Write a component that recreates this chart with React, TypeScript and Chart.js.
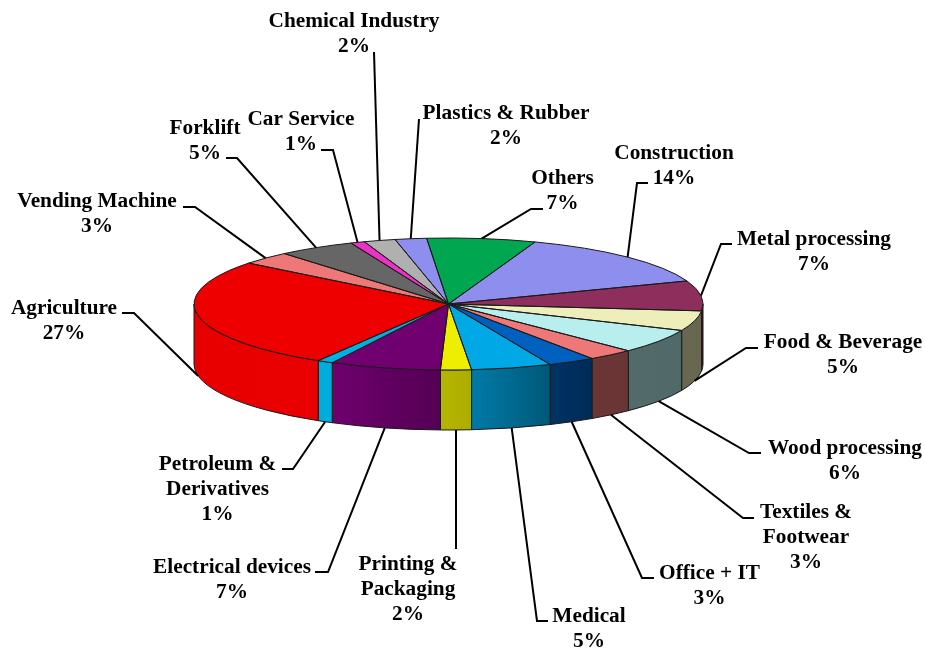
import React, { useEffect, useRef } from "react";
import Chart from "chart.js/auto";

const categories = [
  "Construction", "Metal processing", "Food & Beverage", "Wood processing",
  "Textiles &\nFootwear", "Office + IT", "Medical", "Printing &\nPackaging",
  "Electrical devices", "Petroleum &\nDerivatives", "Agriculture", "Vending Machine",
  "Forklift", "Car Service", "Chemical Industry", "Plastics & Rubber", "Others",
];
const shares = [13.8, 7.35, 4.9, 5.95, 2.95, 3.0, 5.1, 1.95, 7.05, 1.0, 27.1, 3.2, 4.9, 0.9, 2.0, 2.0, 6.9];
const sliceColors = [
  "#8E8EEE", "#8E2E5C", "#EEEEBB", "#B8EEEE", "#EE7777", "#0060C0", "#00A8E6", "#EEEE00",
  "#700070", "#00B0E0", "#EE0000", "#EE7777", "#666666", "#EE2FC8", "#B0B0B0", "#8E8EEE", "#00A650",
];
// label centre x, centre y of first line
const labelSpots = [
  [674, 152], [814, 238], [843, 341], [845, 447], [806, 511], [709.5, 572], [589, 615], [408, 563],
  [232, 566], [217.5, 463], [64, 307], [97, 200], [205, 127], [301, 118], [354, 20], [506, 112], [562.5, 177],
];
// leader line: points from the label side towards the slice
const leaderPaths = [
  [[648, 183], [637, 183]], [[732, 244], [721, 244]], [[758, 348], [746, 348]], [[761, 453], [749, 453]],
  [[754, 518], [743, 518]], [[654, 578], [642, 578]], [[548, 621], [537, 621]], [[456, 549]],
  [[315, 572], [328, 572]], [[282, 469], [293, 469]], [[122, 313], [134, 313]], [[183, 207], [195, 207]],
  [[226, 158], [237, 158]], [[321, 150], [333, 150]], [[374, 52]], [[419, 119]], [[543, 209], [531, 209]],
];
const startDegrees = 19.9;
const tilt = 66 / 254.5;
const wallDepth = 60;
const lineHeight = 25.3;
const shadeStops = [[0, 0.43], [55, 0.45], [67, 0.53], [85, 0.73], [92, 0.76], [117, 0.98], [180, 0.97]];

const TAU = Math.PI * 2;

function shadeAt(deg: number) {
  for (let i = 1; i < shadeStops.length; i++) {
    const [a0, s0] = shadeStops[i - 1];
    const [a1, s1] = shadeStops[i];
    if (deg <= a1) return s0 + ((s1 - s0) * (deg - a0)) / (a1 - a0);
  }
  return shadeStops[shadeStops.length - 1][1];
}

function scaleHex(hex: string, f: number) {
  const n = parseInt(hex.slice(1), 16);
  const r = Math.round(((n >> 16) & 255) * f);
  const g = Math.round(((n >> 8) & 255) * f);
  const b = Math.round((n & 255) * f);
  return `rgb(${r},${g},${b})`;
}

function visibleSpan(start: number, end: number) {
  let s = start % TAU;
  if (s < 0) s += TAU;
  const e = s + (end - start);
  const spans: number[][] = [];
  for (const base of [0, TAU]) {
    const a = Math.max(s, base);
    const b = Math.min(e, base + Math.PI);
    if (b > a) spans.push([a - base, b - base]);
  }
  return spans;
}

const pie3d = {
  id: "pie3d",
  beforeDatasetsDraw(chart: any) {
    const ctx = chart.ctx;
    const arcs = chart.getDatasetMeta(0).data;
    // side walls, right to left
    arcs.forEach((arc: any, i: number) => {
      const rx = arc.outerRadius;
      const ry = rx * tilt;
      for (const [a, b] of visibleSpan(arc.startAngle, arc.endAngle)) {
        const xa = arc.x + rx * Math.cos(a);
        const xb = arc.x + rx * Math.cos(b);
        const grad = ctx.createLinearGradient(xa, 0, xb, 0);
        for (let k = 0; k <= 8; k++) {
          const ang = a + ((b - a) * k) / 8;
          const x = arc.x + rx * Math.cos(ang);
          const pos = xa === xb ? 0 : Math.min(1, Math.max(0, (x - xa) / (xb - xa)));
          grad.addColorStop(pos, scaleHex(sliceColors[i], shadeAt((ang * 180) / Math.PI)));
        }
        ctx.beginPath();
        ctx.ellipse(arc.x, arc.y, rx, ry, 0, a, b);
        ctx.lineTo(arc.x + rx * Math.cos(b), arc.y + ry * Math.sin(b) + wallDepth);
        ctx.ellipse(arc.x, arc.y + wallDepth, rx, ry, 0, b, a, true);
        ctx.closePath();
        ctx.fillStyle = grad;
        ctx.fill();
        ctx.lineWidth = 1;
        ctx.strokeStyle = "#1a1a1a";
        ctx.stroke();
      }
    });
    const first = arcs[0];
    ctx.save();
    ctx.translate(first.x, first.y);
    ctx.scale(1, tilt);
    ctx.translate(-first.x, -first.y);
  },
  afterDatasetsDraw(chart: any) {
    const ctx = chart.ctx;
    ctx.restore();
    const arcs = chart.getDatasetMeta(0).data;
    // slice outlines at a uniform pen width
    arcs.forEach((arc: any) => {
      const rx = arc.outerRadius;
      const ry = rx * tilt;
      ctx.beginPath();
      ctx.moveTo(arc.x, arc.y);
      ctx.ellipse(arc.x, arc.y, rx, ry, 0, arc.startAngle, arc.endAngle);
      ctx.closePath();
      ctx.lineWidth = 1;
      ctx.lineJoin = "round";
      ctx.strokeStyle = "#1a1a1a";
      ctx.stroke();
    });
    // leader lines and labels
    const total = shares.reduce((s, v) => s + v, 0);
    arcs.forEach((arc: any, i: number) => {
      const rx = arc.outerRadius;
      const ry = rx * tilt;
      const mid = (arc.startAngle + arc.endAngle) / 2;
      const sin = Math.sin(mid);
      const ex = arc.x + rx * Math.cos(mid);
      const ey = arc.y + ry * sin + (sin > 0 ? wallDepth : 0);
      ctx.beginPath();
      leaderPaths[i].forEach(([x, y], k) => (k ? ctx.lineTo(x, y) : ctx.moveTo(x, y)));
      ctx.lineTo(ex, ey);
      ctx.lineWidth = 2;
      ctx.lineJoin = "miter";
      ctx.strokeStyle = "#000";
      ctx.stroke();

      const lines = [...categories[i].split("\n"), `${Math.round((shares[i] / total) * 100)}%`];
      const [cx, cy] = labelSpots[i];
      ctx.font = 'bold 21.3px "Liberation Serif"';
      ctx.fillStyle = "#000";
      ctx.textAlign = "center";
      ctx.textBaseline = "middle";
      lines.forEach((t, k) => ctx.fillText(t, cx, cy + 1 + k * lineHeight));
    });
  },
};

export default function App() {
  const ref = useRef<HTMLCanvasElement>(null);
  useEffect(() => {
    const chart = new Chart(ref.current as HTMLCanvasElement, {
      type: "pie",
      data: {
        labels: categories,
        datasets: [{ data: shares, backgroundColor: sliceColors, borderWidth: 0, clip: false } as any],
      },
      options: {
        animation: false,
        responsive: false,
        devicePixelRatio: 1,
        events: [],
        rotation: startDegrees,
        radius: 254.5,
        layout: { padding: { right: 28, bottom: 40 } },
        plugins: { legend: { display: false }, tooltip: { enabled: false } },
      } as any,
      plugins: [pie3d],
    });
    return () => chart.destroy();
  }, []);
  return (
    <div style={{ position: "absolute", left: 0, top: 0, width: 925, height: 648, background: "#fff" }}>
      <canvas ref={ref} width={925} height={648} style={{ display: "block" }} />
    </div>
  );
}
